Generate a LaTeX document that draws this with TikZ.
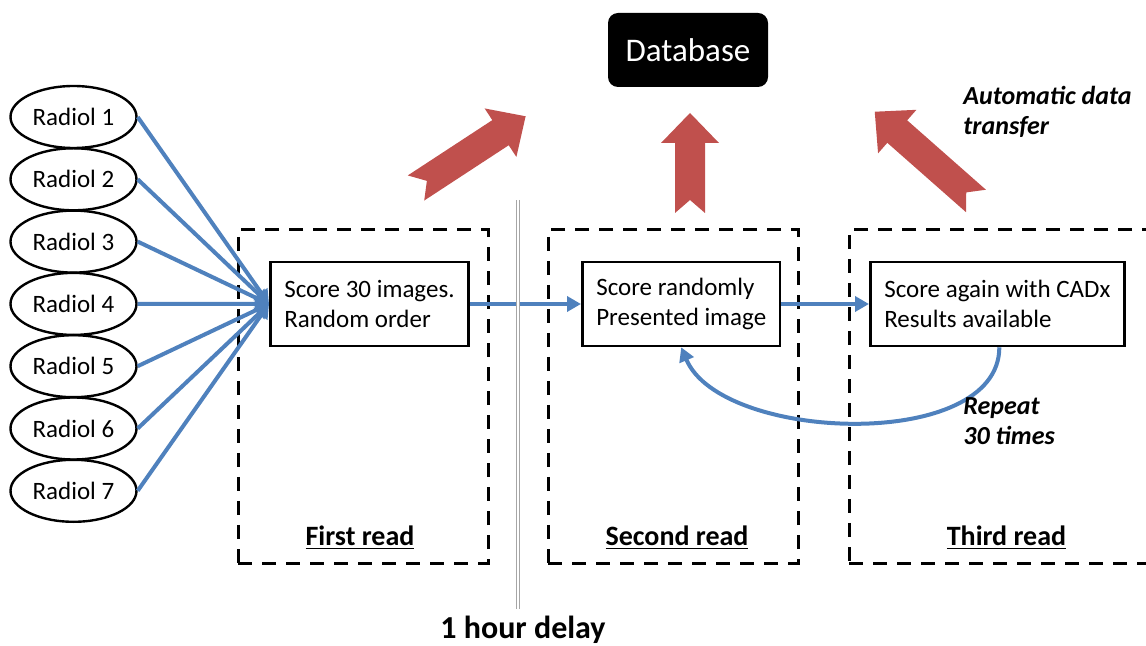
\documentclass[tikz,border=0pt]{standalone}
\usepackage{fontspec}
\setmainfont{Carlito}
\usepackage{tikz}
\usetikzlibrary{arrows.meta,positioning,shapes.geometric}

\definecolor{linkblue}{HTML}{4F81BD}
\definecolor{pushred}{HTML}{C0504D}

\begin{document}
\begin{tikzpicture}[
        x=0.5pt, y=-0.5pt,
        every node/.style={font=\fontsize{12.5}{15}\selectfont},
        radiol/.style={draw, ellipse, line width=1.2pt, minimum width=63pt, minimum height=31pt, inner sep=0pt},
        scorebox/.style={draw, line width=1.3pt, align=left, anchor=west, minimum height=42pt, inner xsep=7pt},
        readframe/.style={draw, line width=1.5pt, dash pattern=on 7pt off 5pt, minimum width=125pt, minimum height=166.5pt},
        readlabel/.style={font=\fontsize{14}{17}\selectfont\bfseries},
        feed/.style={draw=linkblue, line width=2pt, -{Triangle[length=7pt,width=7.5pt]}},
        note/.style={font=\fontsize{13}{15}\selectfont\bfseries\itshape, align=left, anchor=north west, inner sep=0pt},
        dbbox/.style={fill=black, text=white, rounded corners=5pt, minimum width=80pt, minimum height=37pt, font=\fontsize{16.5}{19}\selectfont}
    ]
    \useasboundingbox (0,0) rectangle (1146,646);

    % Database on top
    \node[dbbox] (db) at (688,50) {Database};

    % Automatic transfer arrows (tail x, tail y, angle, length)
    \foreach \tx/\ty/\ang/\len in {416/188/33.2/131, 690/213/90/100, 976/201/138.6/135}
        \fill[pushred, shift={(\tx,\ty)}, rotate=\ang]
            (0,-15) -- (\len-30,-15) -- (\len-30,-29) -- (\len,0) -- (\len-30,29)
            -- (\len-30,15) -- (0,15) -- (13,0) -- cycle;
    \node[note] (autonote) at (963,86) {Automatic data\\transfer};

    % Dashed frames for the three reads
    \node[readframe] (frame1) at (363,396.5) {};
    \node[readframe] (frame2) at (673,396.5) {};
    \node[readframe, minimum width=155.5pt] (frame3) at (1004.5,396.5) {};
    \node[readlabel, above=4pt of frame1.south, xshift=-1.5pt] (lbl1) {\underline{First read}};
    \node[readlabel, above=4pt of frame2.south, xshift=2pt] (lbl2) {\underline{Second read}};
    \node[readlabel, above=4pt of frame3.south, xshift=1pt] (lbl3) {\underline{Third read}};

    % Scoring steps
    \node[scorebox] (first) at (269,304) {Score 30 images.\\Random order};
    \node[scorebox] (second) at (581,304) {Score randomly\\Presented image};
    \node[scorebox] (third) at (869,304) {Score again with CADx\\Results available};

    % Readers
    \foreach \i in {1,...,7}
        \node[radiol] (r\i) at (73.5,{117+62.3*(\i-1)}) {Radiol \i};
    \foreach \i in {1,...,7}
        \draw[feed] (r\i.east) -- (first.west);

    \draw[feed] (first) -- (second);
    \draw[feed] (second) -- (third);

    % Repeat loop back to the second read
    \draw[feed] ([xshift=1pt]third.south) .. controls +(0,105) and +(40,95) .. (second.south);
    \node[note] (repeatnote) at (963,397) {Repeat\\30 times};

    % Delay separator
    \node[font=\fontsize{16}{19}\selectfont\bfseries] (delay) at (523,630) {1 hour delay};
    \draw[gray!70, line width=0.5pt, double, double distance=1pt] (518,200) -- (delay.north -| 518,0);
\end{tikzpicture}
\end{document}
